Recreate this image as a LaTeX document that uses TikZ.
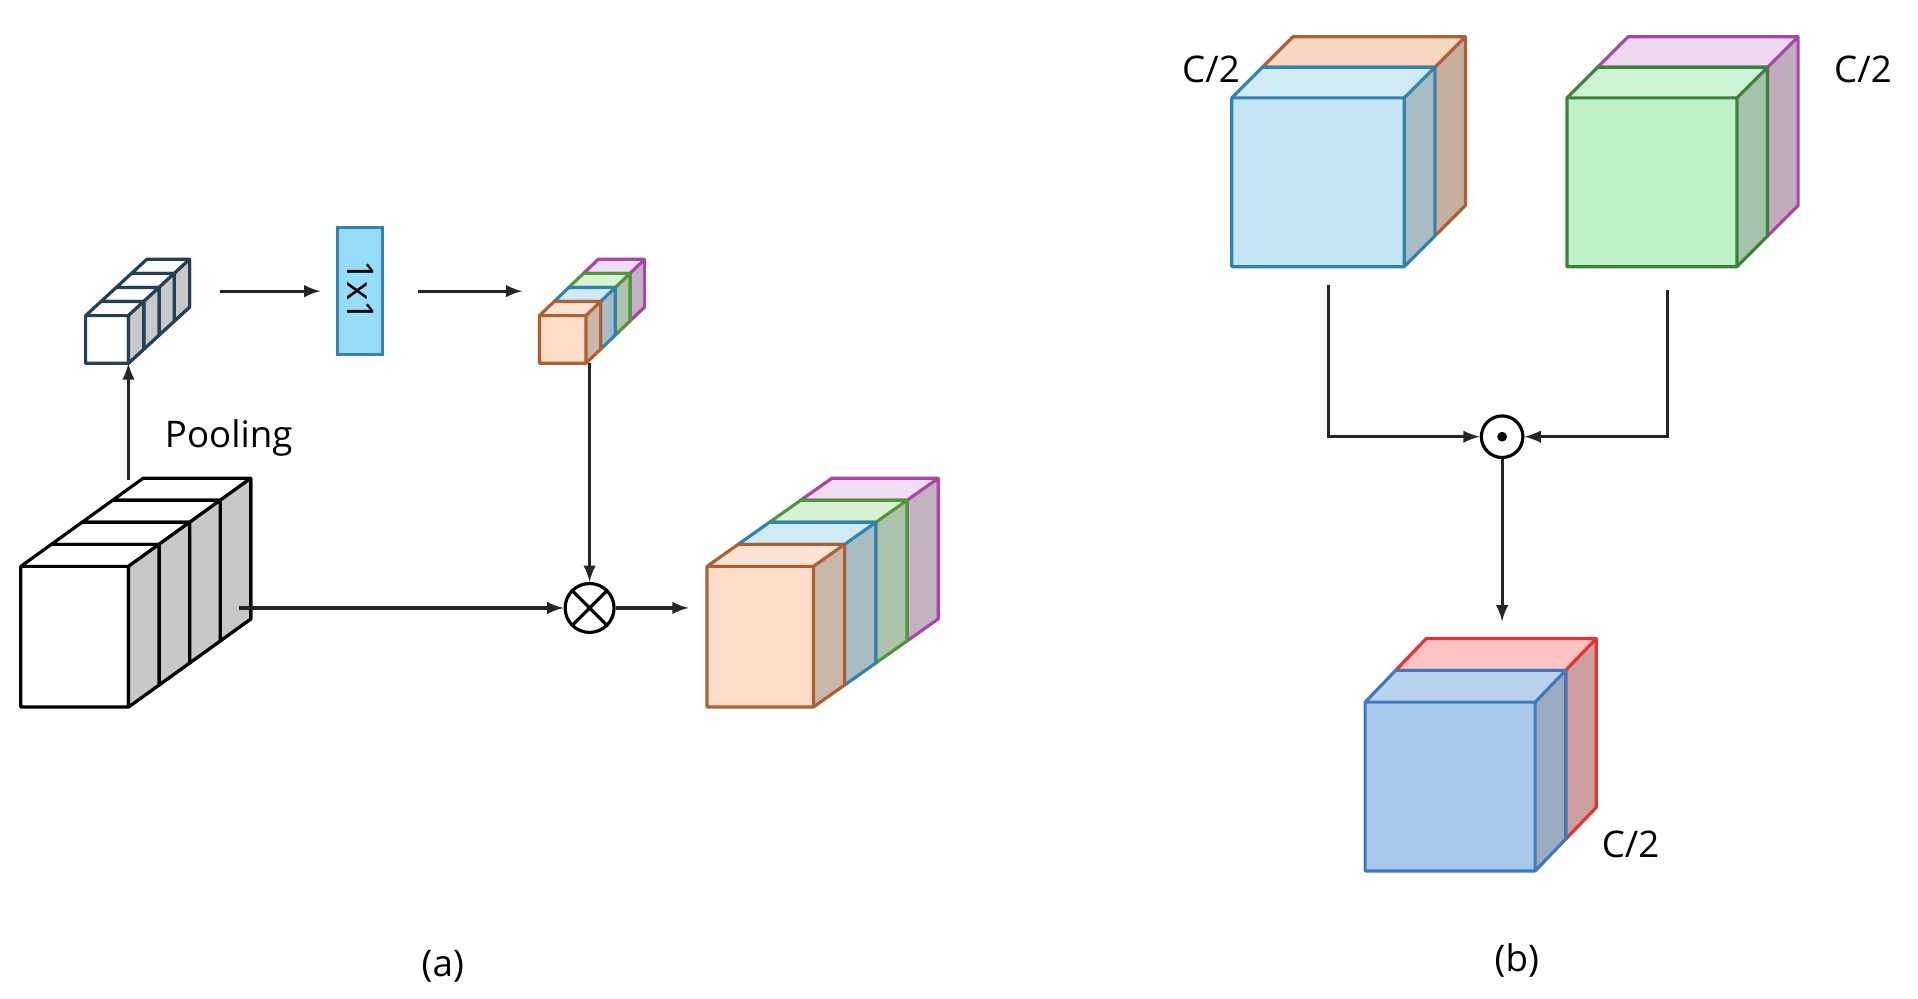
\documentclass[tikz,border=0pt]{standalone}
\usepackage{fontspec}
\setmainfont{Open Sans}
\begin{document}
\newcommand\cbx[8]{% x y(bottom) w h(neg) dx dy fillcolor edgecolor
 \fill[#7] (#1,#2) rectangle ++(#3,#4);
 \fill[#7!80!white] (#1,#2+#4) -- ++(#5,-#6) -- ++(#3,0) -- ++(-#5,#6) -- cycle;
 \fill[#7!75!black!80] (#1+#3,#2) -- ++(#5,-#6) -- ++(0,#4) -- ++(-#5,#6) -- cycle;
 \draw[#8,line width=1.3pt,line join=round] (#1,#2) rectangle ++(#3,#4)
   (#1,#2+#4) -- ++(#5,-#6) -- ++(#3,0) -- ++(0,-#4) -- ++(-#5,#6)
   (#1+#3,#2+#4) -- ++(#5,-#6);}
\definecolor{cO}{RGB}{250,220,200}\definecolor{eO}{RGB}{175,95,50}
\definecolor{cB}{RGB}{195,228,243}\definecolor{eB}{RGB}{50,130,175}
\definecolor{cG}{RGB}{205,240,200}\definecolor{eG}{RGB}{80,150,60}
\definecolor{cP}{RGB}{238,212,238}\definecolor{eP}{RGB}{170,70,170}
\definecolor{cR}{RGB}{255,180,180}\definecolor{eR}{RGB}{230,50,50}
\definecolor{cD}{RGB}{168,200,235}\definecolor{eD}{RGB}{65,120,190}
\definecolor{cGr}{RGB}{200,200,200}
\definecolor{cA}{RGB}{195,228,243}\definecolor{cGG}{RGB}{190,240,200}\definecolor{eGG}{RGB}{60,130,60}
\definecolor{cPP}{RGB}{235,205,235}\definecolor{cOO}{RGB}{245,205,180}
\definecolor{eS}{RGB}{35,65,85}
\begin{tikzpicture}[x=0.5pt,y=-0.5pt,
  arr/.style={-latex,line width=1.3pt,black!85},
  lbl/.style={font=\fontsize{15}{18}\selectfont}]
\useasboundingbox (0,0) rectangle (1568,816);
% (a) gray stack
\foreach \i in {3,2,1,0}{\cbx{17+25*\i}{578-18*\i}{88}{-115}{25}{18}{white}{black}
 \fill[cGr] (105+25*\i,578-18*\i) -- ++(25,-18) -- ++(0,-115) -- ++(-25,18) -- cycle;
 \draw[black,line width=1.3pt,line join=round] (105+25*\i,578-18*\i) -- ++(25,-18) -- ++(0,-115) -- ++(-25,18)-- cycle;}
% small pooled stack
\foreach \i in {3,2,1,0}{\cbx{70+12.5*\i}{297-11.5*\i}{35}{-39}{12.5}{11.5}{white}{eS}
 \fill[cGr] (105+12.5*\i,297-11.5*\i) -- ++(12.5,-11.5) -- ++(0,-39) -- ++(-12.5,11.5) -- cycle;
 \draw[eS,line width=1.3pt,line join=round] (105+12.5*\i,297-11.5*\i) -- ++(12.5,-11.5) -- ++(0,-39) -- ++(-12.5,11.5)-- cycle;}
% 1x1
\node[draw=eB,line width=1.3pt,fill={rgb,255:red,150;green,220;blue,248},minimum width=18.5pt,minimum height=52pt,inner sep=0pt] (conv) at (294.5,238) {};
\node[lbl,rotate=-90] at (conv) {1x1};
% small colored stack
\cbx{477}{262.5}{38}{-39}{12}{11.5}{cP}{eP}
\cbx{465}{274}{38}{-39}{12}{11.5}{cG}{eG}
\cbx{453}{285.5}{38}{-39}{12}{11.5}{cB}{eB}
\cbx{441}{297}{38}{-39}{12}{11.5}{cO}{eO}
% big colored stack
\cbx{654.5}{524}{87}{-115}{25.5}{18}{cP}{eP}
\cbx{629}{542}{87}{-115}{25.5}{18}{cG}{eG}
\cbx{603.5}{560}{87}{-115}{25.5}{18}{cB}{eB}
\cbx{578}{578}{87}{-115}{25.5}{18}{cO}{eO}
% nodes
\node[circle,draw,line width=1.3pt,minimum size=20pt,inner sep=0pt] (mul) at (482,497) {};
\draw[line width=1.3pt] (mul.north west)--(mul.south east) (mul.north east)--(mul.south west);
\coordinate (g1) at (195,497); \coordinate (g2) at (563,497);
\coordinate (p1) at (105,392); \coordinate (p2) at (105,297);
\coordinate (s1) at (180,238); \coordinate (c1) at (262,238);
\coordinate (c2) at (342,238); \coordinate (s2) at (427,238);
\coordinate (v1) at (482,297);
\draw[arr] (g1) -- (mul); \draw[arr] (mul) -- (g2);
\draw[arr] (p1) -- (p2); \draw[arr] (s1) -- (c1); \draw[arr] (c2) -- (s2);
\draw[arr] (v1) -- (mul);
\node[lbl] at (187,358) {Pooling};
\node[lbl] at (362,790) {(a)};
% (b)
\cbx{1032}{193}{141}{-138}{25}{25}{cOO}{eO}
\cbx{1007}{218}{141}{-138}{25}{25}{cA}{eB}
\cbx{1306}{193}{139}{-138}{25}{25}{cPP}{eP}
\cbx{1281}{218}{139}{-138}{25}{25}{cGG}{eGG}
\cbx{1141}{686}{139}{-138}{25}{26}{cR}{eR}
\cbx{1116}{712}{139}{-138}{25}{26}{cD}{eD}
\node[circle,draw,line width=1.3pt,minimum size=17pt,inner sep=0pt] (dot) at (1228,357) {};
\fill (dot) circle (4);
\coordinate (b1) at (1086,233); \coordinate (b2) at (1363,237);
\coordinate (b3) at (1228,508);
\draw[arr] (b1) |- (dot); \draw[arr] (b2) |- (dot); \draw[arr] (dot) -- (b3);
\node[lbl] at (990,57) {C/2};
\node[lbl] at (1523,57) {C/2};
\node[lbl] at (1333,690) {C/2};
\node[lbl] at (1240,785) {(b)};
\end{tikzpicture}
\end{document}
